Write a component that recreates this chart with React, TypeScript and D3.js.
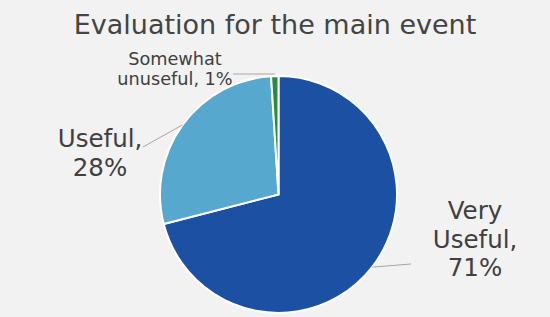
import React from "react";
import * as d3 from "d3";

const categories = ["Very Useful", "Useful", "Somewhat unuseful"];
const values = [71, 28, 1];
const labelLines = [["Very", "Useful,", "71%"], ["Useful,", "28%"], ["Somewhat", "unuseful, 1%"]];
const colors = ["#1b50a3", "#56a8cf", "#2a8c3c"];

const W = 550, H = 317;
const cx = 278.5, cy = 194.5, R = 118.5;

export default function App() {
  const pie = d3.pie<number>().sort(null).value((d) => d);
  const arcs = pie(values);
  const arc = d3.arc<d3.PieArcDatum<number>>().innerRadius(0).outerRadius(R);

  const labelPos = [
    { x: 475, y: 219, size: 24.5, lh: 28.5, leader: [411, 264] },
    { x: 100, y: 147, size: 24.5, lh: 28.5, leader: [143, 147] },
    { x: 175, y: 65, size: 17.7, lh: 20, leader: [233, 74] },
  ];

  return (
    <svg width={W} height={H}
      style={{ position: "absolute", left: 0, top: 0, display: "block", background: "#f2f2f2" }}
      fontFamily="'DejaVu Sans', sans-serif">
      <text x={W / 2} y={34} textAnchor="middle" fontSize={27} fill="#444444">
        Evaluation for the main event
      </text>
      <g transform={`translate(${cx},${cy})`}>
        {arcs.map((a, i) => (
          <path key={categories[i]} d={arc(a) || ""} fill={colors[i]} stroke="#ffffff" strokeWidth={2} />
        ))}
      </g>
      {arcs.map((a, i) => {
        const p = labelPos[i];
        const mid = (a.startAngle + a.endAngle) / 2;
        const sx = cx + Math.sin(mid) * R;
        const sy = cy - Math.cos(mid) * R;
        return (
          <g key={"l" + i}>
            <line x1={p.leader[0]} y1={p.leader[1]} x2={sx} y2={i === 2 ? p.leader[1] : sy}
              stroke="#a6a6a6" strokeWidth={1} />
            <text textAnchor="middle" fontSize={p.size} fill="#404040">
              {labelLines[i].map((t, j) => (
                <tspan key={j} x={p.x} y={p.y + j * p.lh}>{t}</tspan>
              ))}
            </text>
          </g>
        );
      })}
    </svg>
  );
}
